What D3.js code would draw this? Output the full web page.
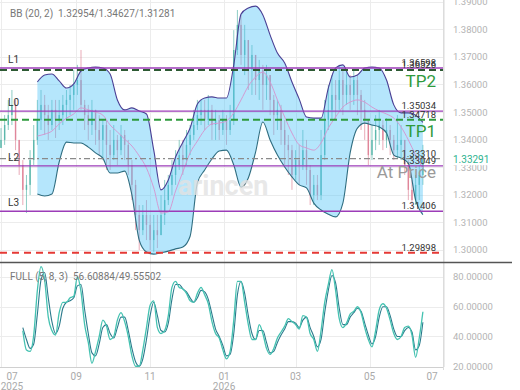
<!DOCTYPE html>
<html>
<head>
<meta charset="utf-8">
<script src="https://cdn.jsdelivr.net/npm/d3@7"></script>
<style>
  body { margin: 0; background: #fff; }
  svg { display: block; font-family: Roboto, "Noto Sans", sans-serif; }
</style>
</head>
<body>
<script>
// candles: one every 3 days from 1 Jul 2025, open = previous close
const startDate = new Date(2025, 6, 1);
const stepDays = 3;
const firstOpen = 1.3370;
const closes = [
  1.3399, 1.3453, 1.3489, 1.3526, 1.3399, 1.3308, 1.3218, 1.3236, 1.3326, 1.3399,
  1.3471, 1.3526, 1.3489, 1.3453, 1.3508, 1.3471, 1.3489, 1.3526, 1.3544, 1.3562,
  1.3598, 1.3616, 1.3526, 1.3489, 1.3453, 1.3508, 1.3435, 1.3399, 1.3453, 1.3381,
  1.3344, 1.3399, 1.3362, 1.3417, 1.3381, 1.3308, 1.3236, 1.3127, 1.3072, 1.3127,
  1.3091, 1.3036, 1.3072, 1.3054, 1.3127, 1.3181, 1.3236, 1.3272, 1.3308, 1.3344,
  1.3326, 1.3381, 1.3417, 1.3453, 1.3489, 1.3508, 1.3471, 1.3508, 1.3453, 1.3471,
  1.3435, 1.3471, 1.3435, 1.3471, 1.3725, 1.3816, 1.3707, 1.3761, 1.3653, 1.3707,
  1.3616, 1.3653, 1.3598, 1.3634, 1.3544, 1.3489, 1.3508, 1.3435, 1.3381, 1.3362,
  1.3272, 1.3326, 1.3308, 1.3362, 1.3290, 1.3199, 1.3236, 1.3199, 1.3344, 1.3471,
  1.3508, 1.3562, 1.3544, 1.3616, 1.3562, 1.3598, 1.3562, 1.3616, 1.3562, 1.3508,
  1.3471, 1.3344, 1.3399, 1.3435, 1.3453, 1.3399, 1.3435, 1.3399, 1.3362, 1.3381,
  1.3399, 1.3308, 1.3218, 1.3181, 1.3236, 1.3272, 1.33291
];
const highs = [
  1.3442, 1.3489, 1.3544, 1.3580, 1.3544, 1.3399, 1.3326, 1.3272, 1.3362, 1.3453,
  1.3544, 1.3580, 1.3562, 1.3526, 1.3544, 1.3544, 1.3544, 1.3562, 1.3580, 1.3598,
  1.3653, 1.3671, 1.3725, 1.3544, 1.3526, 1.3544, 1.3508, 1.3489, 1.3471, 1.3471,
  1.3435, 1.3453, 1.3417, 1.3453, 1.3435, 1.3399, 1.3326, 1.3254, 1.3163, 1.3163,
  1.3181, 1.3127, 1.3127, 1.3127, 1.3199, 1.3254, 1.3272, 1.3326, 1.3362, 1.3399,
  1.3399, 1.3435, 1.3453, 1.3508, 1.3544, 1.3544, 1.3544, 1.3562, 1.3526, 1.3508,
  1.3489, 1.3508, 1.3489, 1.3526, 1.3797, 1.3870, 1.3852, 1.3816, 1.3761, 1.3743,
  1.3707, 1.3689, 1.3671, 1.3671, 1.3634, 1.3562, 1.3544, 1.3526, 1.3471, 1.3417,
  1.3381, 1.3362, 1.3381, 1.3435, 1.3399, 1.3308, 1.3272, 1.3272, 1.3435, 1.3544,
  1.3598, 1.3634, 1.3616, 1.3671, 1.3653, 1.3653, 1.3634, 1.3653, 1.3634, 1.3580,
  1.3544, 1.3471, 1.3453, 1.3489, 1.3508, 1.3471, 1.3478, 1.3453, 1.3417, 1.3489,
  1.3453, 1.3399, 1.3326, 1.3254, 1.3272, 1.3308, 1.3381
];
const lows = [
  1.3370, 1.3381, 1.3435, 1.3453, 1.3362, 1.3272, 1.3163, 1.3134, 1.3199, 1.3308,
  1.3381, 1.3435, 1.3417, 1.3399, 1.3435, 1.3406, 1.3435, 1.3453, 1.3471, 1.3489,
  1.3508, 1.3562, 1.3508, 1.3435, 1.3399, 1.3417, 1.3381, 1.3344, 1.3326, 1.3290,
  1.3290, 1.3326, 1.3308, 1.3344, 1.3326, 1.3272, 1.3181, 1.3072, 1.3000, 1.3054,
  1.3036, 1.3000, 1.2993, 1.3007, 1.3054, 1.3091, 1.3163, 1.3199, 1.3236, 1.3290,
  1.3272, 1.3308, 1.3344, 1.3399, 1.3435, 1.3453, 1.3435, 1.3453, 1.3399, 1.3399,
  1.3399, 1.3417, 1.3381, 1.3417, 1.3453, 1.3707, 1.3671, 1.3634, 1.3580, 1.3562,
  1.3562, 1.3544, 1.3508, 1.3544, 1.3489, 1.3417, 1.3435, 1.3381, 1.3308, 1.3272,
  1.3218, 1.3254, 1.3236, 1.3290, 1.3236, 1.3163, 1.3163, 1.3181, 1.3181, 1.3326,
  1.3435, 1.3471, 1.3471, 1.3508, 1.3489, 1.3526, 1.3508, 1.3526, 1.3489, 1.3435,
  1.3399, 1.3308, 1.3326, 1.3362, 1.3381, 1.3362, 1.3370, 1.3344, 1.3326, 1.3333,
  1.3326, 1.3272, 1.3181, 1.3156, 1.3163, 1.3181, 1.3236
];

// Bollinger (20, 2), read at every 2nd candle starting at candle 10
const bandFrom = 10;
const bbUpper = [
  1.3609, 1.3634, 1.3638, 1.3613, 1.3587, 1.3602, 1.3649, 1.3660, 1.3663, 1.3660,
  1.3638, 1.3544, 1.3508, 1.3515, 1.3504, 1.3493, 1.3362, 1.3218, 1.3254, 1.3337,
  1.3391, 1.3442, 1.3529, 1.3551, 1.3555, 1.3551, 1.3551, 1.3671, 1.3855, 1.3877,
  1.3884, 1.3852, 1.3779, 1.3714, 1.3678, 1.3609, 1.3547, 1.3482, 1.3478, 1.3478,
  1.3587, 1.3660, 1.3671, 1.3627, 1.3634, 1.3660, 1.3663, 1.3660, 1.3616, 1.3526,
  1.3497, 1.3497, 1.3489, 1.34627
];
const bbMiddle = [
  1.3413, 1.3420, 1.3431, 1.3457, 1.3478, 1.3493, 1.3515, 1.3508, 1.3500, 1.3489,
  1.3453, 1.3428, 1.3402, 1.3377, 1.3341, 1.3297, 1.3225, 1.3134, 1.3138, 1.3214,
  1.3283, 1.3352, 1.3395, 1.3435, 1.3457, 1.3460, 1.3468, 1.3497, 1.3544, 1.3594,
  1.3627, 1.3645, 1.3609, 1.3544, 1.3482, 1.3424, 1.3381, 1.3370, 1.3362, 1.3388,
  1.3442, 1.3482, 1.3518, 1.3536, 1.3544, 1.3536, 1.3518, 1.3504, 1.3493, 1.3478,
  1.3446, 1.3399, 1.3344, 1.32954
];
const bbLower = [
  1.3203, 1.3196, 1.3203, 1.3319, 1.3391, 1.3388, 1.3388, 1.3373, 1.3352, 1.3333,
  1.3279, 1.3279, 1.3286, 1.3199, 1.3036, 1.2993, 1.2985, 1.2990, 1.2996, 1.3004,
  1.3011, 1.3050, 1.3243, 1.3290, 1.3330, 1.3359, 1.3362, 1.3308, 1.3228, 1.3261,
  1.3355, 1.3464, 1.3399, 1.3344, 1.3301, 1.3265, 1.3236, 1.3225, 1.3170, 1.3145,
  1.3130, 1.3120, 1.3170, 1.3352, 1.3442, 1.3460, 1.3453, 1.3446, 1.3424, 1.3344,
  1.3333, 1.3315, 1.3181, 1.31281
];

// Full stochastic (5, 8, 3), one value per candle from candle 6
const stochFrom = 6;
const stochK = [
  44, 31, 30, 41, 71, 87, 78, 53, 44, 41,
  56, 63, 63, 66, 67, 80, 70, 48, 36, 22,
  30, 40, 51, 47, 38, 40, 51, 56, 50, 40,
  27, 20, 20, 31, 46, 61, 64, 46, 42, 44,
  54, 73, 77, 73, 72, 69, 64, 63, 69, 73,
  68, 62, 50, 42, 39, 31, 25, 30, 51, 77,
  77, 63, 48, 38, 38, 48, 42, 32, 28, 32,
  39, 43, 47, 52, 50, 48, 45, 54, 53, 42,
  38, 30, 44, 63, 75, 85, 71, 52, 46, 49,
  55, 57, 60, 56, 46, 38, 33, 44, 58, 62,
  59, 51, 42, 38, 40, 46, 47, 41, 26, 39,
  56.60884
];
const stochD = [
  46, 38, 32, 35, 55, 78, 83, 66, 50, 42,
  47, 59, 63, 64, 66, 74, 75, 58, 42, 29,
  27, 35, 46, 48, 42, 39, 46, 53, 53, 44,
  32, 23, 20, 25, 38, 54, 63, 54, 44, 43,
  49, 65, 75, 75, 72, 70, 66, 63, 66, 71,
  70, 65, 55, 45, 40, 34, 27, 28, 42, 68,
  77, 69, 54, 42, 38, 44, 44, 36, 29, 30,
  36, 41, 45, 50, 50, 49, 46, 51, 53, 46,
  40, 33, 38, 56, 71, 81, 76, 59, 48, 48,
  53, 56, 59, 57, 49, 41, 35, 40, 53, 60,
  60, 54, 45, 40, 40, 44, 46, 43, 31, 34,
  49.55502
];

// drawn levels
const levelNames = ["L1", "L0", "L2", "L3"];
const levelValues = [1.36598, 1.35034, 1.33049, 1.31406];
const targetNames = ["TP2", "TP1"];
const targetValues = [1.36526, 1.34718];
const stopValue = 1.29898;
const atPriceValue = 1.33310;
const lastPrice = 1.33291;

const priceTicks = [1.30, 1.31, 1.32, 1.33, 1.34, 1.35, 1.36, 1.37, 1.38, 1.39];
const stochTicks = [20, 40, 60, 80];
const bbLegend = "1.32954/1.34627/1.31281";
const stochLegend = "56.60884/49.55502";

const width = 520, height = 390;
const plotRight = 443;

const svg = d3.select("body").append("svg")
  .attr("width", width)
  .attr("height", height);

const x = d3.scaleTime()
  .domain([new Date(2025, 6, 1), new Date(2026, 6, 1)])
  .range([1, 443.5]);
const y = d3.scaleLinear().domain([1.29565, 1.39062]).range([262, 0]);
const ys = d3.scaleLinear().domain([19.5, 89.4]).range([367, 263]);

const dateAt = (i) => d3.timeDay.offset(startDate, i * stepDays);

const candles = closes.map((c, i) => {
  const o = i === 0 ? firstOpen : closes[i - 1];
  return {
    date: dateAt(i),
    open: o,
    close: c,
    high: Math.max(highs[i], o, c),
    low: Math.min(lows[i], o, c)
  };
});

const band = bbUpper.map((u, k) => ({
  date: dateAt(bandFrom + 2 * k),
  upper: u,
  middle: bbMiddle[k],
  lower: bbLower[k]
}));

const stoch = stochK.map((k, i) => ({
  date: dateAt(stochFrom + i),
  k: k,
  d: stochD[i]
}));

const monthTicks = d3.timeMonth.every(2).range(new Date(2025, 6, 1), new Date(2026, 6, 2));

// grid
const grid = svg.append("g").attr("stroke", "#ececec").attr("stroke-width", 1);
grid.selectAll(".hp").data(priceTicks).enter().append("line")
  .attr("x1", 0).attr("x2", plotRight)
  .attr("y1", (d) => Math.round(y(d)) + 0.5).attr("y2", (d) => Math.round(y(d)) + 0.5);
grid.selectAll(".hs").data(stochTicks.filter((d) => d > 20)).enter().append("line")
  .attr("x1", 0).attr("x2", plotRight)
  .attr("y1", (d) => Math.round(ys(d)) + 0.5).attr("y2", (d) => Math.round(ys(d)) + 0.5);
grid.selectAll(".v").data(monthTicks).enter().append("line")
  .attr("x1", (d) => Math.round(x(d)) + 0.5).attr("x2", (d) => Math.round(x(d)) + 0.5)
  .attr("y1", 0).attr("y2", 367);

// candles (thin, muted)
const upColor = "#5cb8ac", downColor = "#e0869a";
const candleG = svg.append("g");
candleG.selectAll(".wick").data(candles).enter().append("line")
  .attr("x1", (d) => x(d.date)).attr("x2", (d) => x(d.date))
  .attr("y1", (d) => y(d.high)).attr("y2", (d) => y(d.low))
  .attr("stroke", (d) => (d.close >= d.open ? upColor : downColor))
  .attr("stroke-width", 0.7);
candleG.selectAll(".body").data(candles).enter().append("rect")
  .attr("x", (d) => x(d.date) - 0.7)
  .attr("width", 1.4)
  .attr("y", (d) => y(Math.max(d.open, d.close)))
  .attr("height", (d) => Math.max(1, Math.abs(y(d.open) - y(d.close))))
  .attr("fill", (d) => (d.close >= d.open ? upColor : downColor));

// bollinger band
svg.append("path").datum(band)
  .attr("fill", "#4fc3f7").attr("fill-opacity", 0.42)
  .attr("d", d3.area().curve(d3.curveMonotoneX)
    .x((d) => x(d.date)).y0((d) => y(d.lower)).y1((d) => y(d.upper)));
svg.append("path").datum(band)
  .attr("fill", "none").attr("stroke", "#d39bd3").attr("stroke-width", 1)
  .attr("d", d3.line().curve(d3.curveMonotoneX).x((d) => x(d.date)).y((d) => y(d.middle)));
svg.append("path").datum(band)
  .attr("fill", "none").attr("stroke", "#4a3f94").attr("stroke-width", 1.1)
  .attr("d", d3.line().curve(d3.curveMonotoneX).x((d) => x(d.date)).y((d) => y(d.upper)));
svg.append("path").datum(band)
  .attr("fill", "none").attr("stroke", "#2f6d80").attr("stroke-width", 1.1)
  .attr("d", d3.line().curve(d3.curveMonotoneX).x((d) => x(d.date)).y((d) => y(d.lower)));

// level lines
const lv = svg.append("g");
lv.selectAll(".lvl").data(levelValues).enter().append("line")
  .attr("x1", 0).attr("x2", plotRight)
  .attr("y1", (d) => y(d)).attr("y2", (d) => y(d))
  .attr("stroke", "#9c3cb8").attr("stroke-width", 1.4);
lv.selectAll(".tp").data(targetValues).enter().append("line")
  .attr("x1", 0).attr("x2", plotRight)
  .attr("y1", (d) => y(d)).attr("y2", (d) => y(d))
  .attr("stroke", (d, i) => (i === 0 ? "#2d5a33" : "#2e9a3c"))
  .attr("stroke-width", 2).attr("stroke-dasharray", "7,4");
lv.append("line")
  .attr("x1", 0).attr("x2", plotRight)
  .attr("y1", y(stopValue)).attr("y2", y(stopValue))
  .attr("stroke", "#e53935").attr("stroke-width", 2).attr("stroke-dasharray", "7,5");
lv.append("line")
  .attr("x1", 0).attr("x2", plotRight)
  .attr("y1", y(atPriceValue)).attr("y2", y(atPriceValue))
  .attr("stroke", "#8a8a8a").attr("stroke-width", 1.2).attr("stroke-dasharray", "6,3,2,3");

// level labels
lv.selectAll(".ln").data(levelValues).enter().append("text")
  .attr("x", 8).attr("y", (d) => y(d) - 5)
  .attr("font-size", 10).attr("fill", "#333")
  .text((d, i) => levelNames[i]);
const priceLabels = levelValues.concat(targetValues, [stopValue, atPriceValue]);
lv.selectAll(".pl").data(priceLabels).enter().append("text")
  .attr("x", 436).attr("y", (d) => y(d) - 2)
  .attr("text-anchor", "end").attr("font-size", 9.5).attr("fill", "#333")
  .text((d) => d.toFixed(5));
lv.selectAll(".tpn").data(targetValues).enter().append("text")
  .attr("x", 436).attr("y", (d) => y(d) + 17)
  .attr("text-anchor", "end").attr("font-size", 17).attr("fill", "#2e9a3c")
  .text((d, i) => targetNames[i]);
lv.append("text")
  .attr("x", 436).attr("y", y(atPriceValue) + 19)
  .attr("text-anchor", "end").attr("font-size", 17).attr("fill", "#9a9a9a")
  .text("At Price");

// watermark
svg.append("text")
  .attr("x", 178).attr("y", 195)
  .attr("font-size", 27).attr("font-weight", 700).attr("fill", "#e2e2e2")
  .attr("fill-opacity", 0.8)
  .text("arincen");

// stochastic
svg.append("path").datum(stoch)
  .attr("fill", "none").attr("stroke", "#2b7a8c").attr("stroke-width", 1.1)
  .attr("d", d3.line().curve(d3.curveMonotoneX).x((d) => x(d.date)).y((d) => ys(d.d)));
svg.append("path").datum(stoch)
  .attr("fill", "none").attr("stroke", "#45c2b1").attr("stroke-width", 1.3)
  .attr("d", d3.line().curve(d3.curveMonotoneX).x((d) => x(d.date)).y((d) => ys(d.k)));

// frame
svg.append("line").attr("x1", plotRight + 0.5).attr("x2", plotRight + 0.5)
  .attr("y1", 0).attr("y2", 370).attr("stroke", "#dcdcdc");
svg.append("line").attr("x1", 0).attr("x2", plotRight)
  .attr("y1", 367.5).attr("y2", 367.5).attr("stroke", "#d0d0d0");
svg.append("line").attr("x1", 0).attr("x2", 512)
  .attr("y1", 262.5).attr("y2", 262.5).attr("stroke", "#555").attr("stroke-width", 1.5);

// right axes
const ax = svg.append("g").attr("font-size", 9.5).attr("fill", "#b4b4b4");
ax.selectAll(".pt").data(priceTicks).enter().append("text")
  .attr("x", 453).attr("y", (d) => y(d) + 3.5)
  .text((d) => d.toFixed(5));
ax.selectAll(".st").data(stochTicks).enter().append("text")
  .attr("x", 453).attr("y", (d) => ys(d) + 3.5)
  .text((d) => d.toFixed(5));
ax.append("rect").attr("x", 450).attr("y", y(lastPrice) - 6)
  .attr("width", 40).attr("height", 12).attr("fill", "#fff");
ax.append("text").attr("x", 453).attr("y", y(lastPrice) + 3.5)
  .attr("fill", "#2fb38f").attr("font-size", 10)
  .text(lastPrice.toFixed(5));

// time axis
const fmtMonth = d3.timeFormat("%m");
const tx = svg.append("g").attr("font-size", 10).attr("fill", "#aaa").attr("text-anchor", "middle");
monthTicks.forEach((d) => {
  const px = Math.min(432, Math.max(12, x(d)));
  tx.append("text").attr("x", px).attr("y", 380).text(fmtMonth(d));
  if (d.getMonth() === 0 || d === monthTicks[0]) {
    tx.append("text").attr("x", px).attr("y", 390).text(d.getFullYear());
  }
});

// legends
const lg = svg.append("g").attr("font-size", 10).attr("fill", "#777");
lg.append("text").attr("x", 10).attr("y", 17).text("BB (20, 2)");
lg.append("text").attr("x", 58).attr("y", 17).text(bbLegend);
lg.append("text").attr("x", 10).attr("y", 280).text("FULL (5, 8, 3)");
lg.append("text").attr("x", 73).attr("y", 280).text(stochLegend);
</script>
</body>
</html>
